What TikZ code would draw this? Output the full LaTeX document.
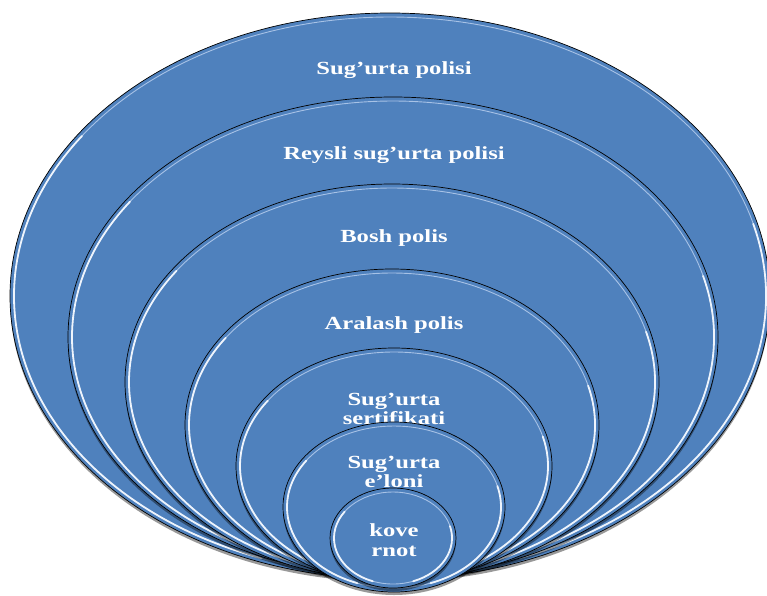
\documentclass[tikz,border=0pt]{standalone}
\usepackage{fontspec}
\setmainfont{Liberation Serif}
\usepackage{graphicx}
\definecolor{ringblue}{HTML}{4F81BD}
\definecolor{hlfaint}{HTML}{A7C2E6}
\definecolor{hlbright}{HTML}{EEF4FC}
\tikzset{
  ringbody/.style={fill=ringblue, draw=black, line width=0.7pt},
  ringshadow/.style={fill=black, opacity=0.4},
  hlfaintline/.style={draw=hlfaint, line width=0.9pt},
  hlbrightline/.style={draw=hlbright, line width=1.8pt, line cap=round},
  ringlabel/.style={text=white, font=\bfseries\fontsize{18.5}{19.5}\selectfont, align=center, inner sep=0pt}
}
\newcommand\ringlayer[4]{%
  \pgfmathsetmacro\irx{#3-4}%
  \pgfmathsetmacro\iry{#4-4}%
  \pgfmathsetmacro\sxa{#1+\irx*cos(110)}%
  \pgfmathsetmacro\sya{#2+\iry*sin(110)}%
  \pgfmathsetmacro\sxb{#1+\irx*cos(-15)}%
  \pgfmathsetmacro\syb{#2+\iry*sin(-15)}%
  \fill[ringshadow] (#1,#2+3) ellipse[x radius=#3, y radius=#4];
  \path[ringbody] (#1,#2) ellipse[x radius=#3, y radius=#4];
  \path[hlfaintline] (#1,#2) ellipse[x radius=\irx, y radius=\iry];
  \path[hlbrightline] (\sxa,\sya) arc[start angle=110, end angle=215, x radius=\irx, y radius=\iry];
  \path[hlbrightline] (\sxb,\syb) arc[start angle=-15, end angle=70, x radius=\irx, y radius=\iry];
}
\newcommand\widetext[1]{\scalebox{1.33}[1]{#1}}
\begin{document}
\begin{tikzpicture}[x=1pt, y=-1pt]
  \useasboundingbox (0,0) rectangle (767,595);
  \clip (0,0) rectangle (767,595);
  \ringlayer{390}{296}{380}{283}
  \node[ringlabel] (t1) at (394,70) {\widetext{Sug’urta polisi}};
  \ringlayer{393}{337}{325}{240}
  \node[ringlabel] (t2) at (394,155) {\widetext{Reysli sug’urta polisi}};
  \ringlayer{392}{382}{267}{198}
  \node[ringlabel] (t3) at (394,238) {\widetext{Bosh polis}};
  \ringlayer{392}{425}{207}{156}
  \node[ringlabel] (t4) at (394,325) {\widetext{Aralash polis}};
  \ringlayer{394}{466}{158}{118}
  \node[ringlabel] (t5) at (394,409) {\widetext{Sug’urta}\\\widetext{sertifikati}};
  \ringlayer{394}{507}{111}{85}
  \node[ringlabel] (t6) at (394,472) {\widetext{Sug’urta}\\\widetext{e’loni}};
  \ringlayer{393}{538}{63}{50}
  \node[ringlabel] (t7) at (394,540) {\widetext{kove}\\\widetext{rnot}};
\end{tikzpicture}
\end{document}
